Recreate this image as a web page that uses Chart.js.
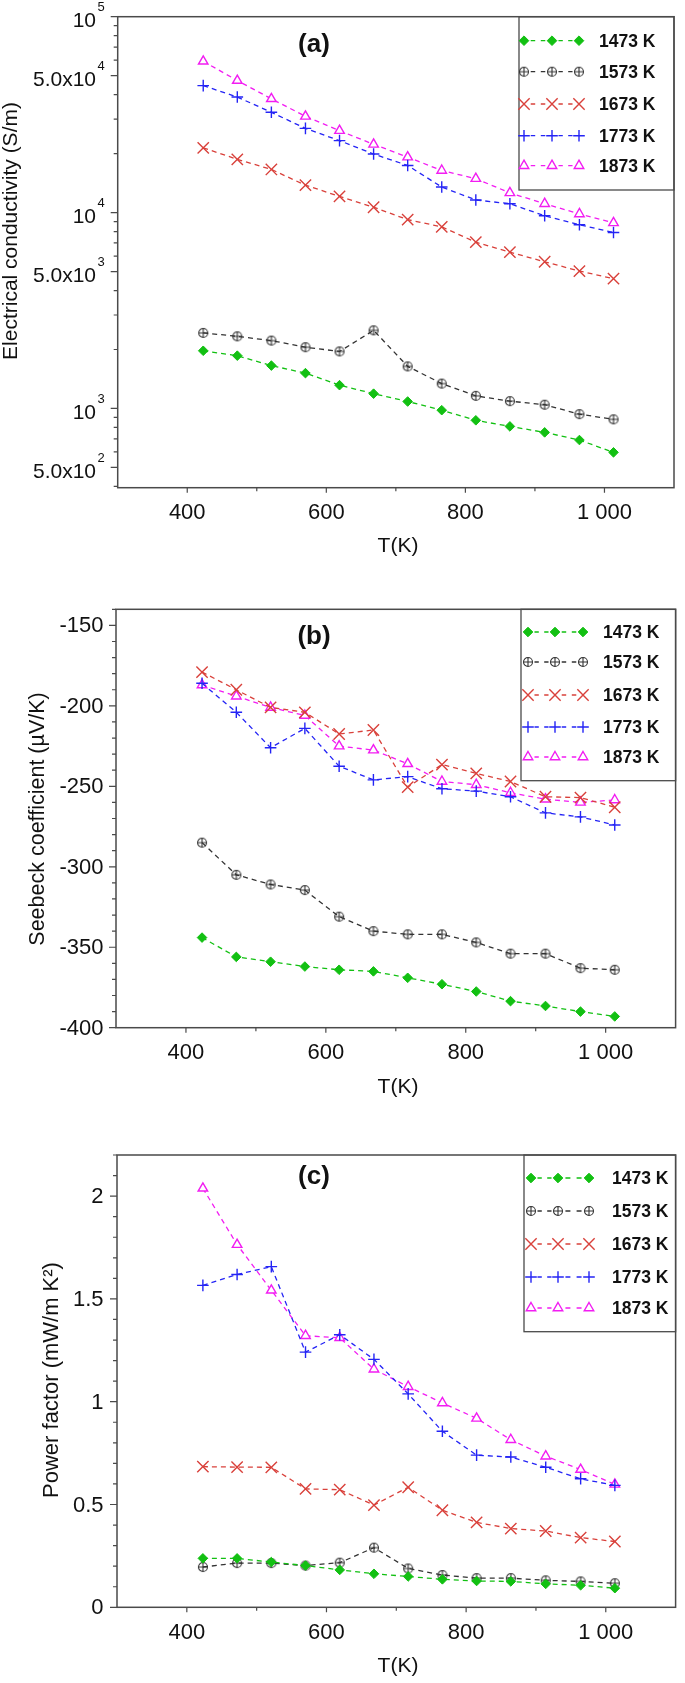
<!DOCTYPE html>
<html>
<head>
<meta charset="utf-8">
<script src="https://cdn.jsdelivr.net/npm/chart.js@4.4.0/dist/chart.umd.min.js"></script>
<style>
  html, body { margin: 0; padding: 0; background: #fff; }
  body { width: 685px; height: 1683px; position: relative; overflow: hidden; }
  .panel { position: absolute; left: 0; width: 685px; }
</style>
</head>
<body>
<div class="panel" style="top:0;height:560px"><canvas id="chartA"></canvas></div>
<div class="panel" style="top:560px;height:560px"><canvas id="chartB"></canvas></div>
<div class="panel" style="top:1120px;height:563px"><canvas id="chartC"></canvas></div>
<script>
// measurement temperatures T(K)
const temps = [423, 472, 521, 570, 619, 668, 717, 766, 815, 864, 914, 964, 1013];
// sintering temperatures (legend)
const seriesNames = ["1473 K", "1573 K", "1673 K", "1773 K", "1873 K"];

// (a) electrical conductivity, S/m
const sigma1473 = [1970, 1860, 1655, 1515, 1315, 1190, 1085, 980, 870, 810, 755, 690, 597];
const sigma1573 = [2430, 2335, 2220, 2055, 1955, 2505, 1640, 1340, 1160, 1090, 1045, 935, 880];
const sigma1673 = [21400, 18700, 16600, 13800, 12100, 10650, 9200, 8460, 7060, 6280, 5610, 5030, 4600];
const sigma1773 = [44500, 38900, 32500, 26900, 23300, 19900, 17400, 13500, 11600, 11100, 9630, 8670, 7910];
const sigma1873 = [59200, 47200, 38100, 31000, 26200, 22300, 19200, 16400, 14900, 12600, 11100, 9840, 8860];

// (b) Seebeck coefficient, µV/K
const seebeck1473 = [-344, -356, -359, -362, -364, -365, -369, -373, -377.5, -383.5, -386.5, -390, -393];
const seebeck1573 = [-285, -305, -311, -314.5, -331, -340, -342, -342, -347, -354, -354, -363, -364];
const seebeck1673 = [-179, -190, -201, -204, -217.5, -215, -250.5, -236.5, -242, -247, -256.5, -257, -263];
const seebeck1773 = [-186, -204, -226, -214, -237.5, -246, -244, -251.5, -253, -256.5, -266.5, -269, -274];
const seebeck1873 = [-187, -194, -201, -206, -225, -227.5, -236, -247, -249, -254, -258, -260, -258.5];

// (c) power factor, mW/m K²
const pf1473 = [0.238, 0.238, 0.220, 0.203, 0.182, 0.163, 0.150, 0.136, 0.128, 0.126, 0.114, 0.107, 0.093];
const pf1573 = [0.196, 0.215, 0.215, 0.203, 0.217, 0.290, 0.189, 0.157, 0.142, 0.142, 0.131, 0.126, 0.117];
const pf1673 = [0.684, 0.682, 0.681, 0.576, 0.572, 0.497, 0.584, 0.472, 0.413, 0.383, 0.371, 0.339, 0.320];
const pf1773 = [1.566, 1.619, 1.657, 1.241, 1.326, 1.206, 1.038, 0.856, 0.740, 0.731, 0.681, 0.625, 0.593];
const pf1873 = [2.038, 1.764, 1.542, 1.321, 1.311, 1.158, 1.073, 0.994, 0.919, 0.815, 0.735, 0.670, 0.598];

// axis ticks
const xMajor = [400, 600, 800, 1000];
const xMajorLabels = ["400", "600", "800", "1 000"];
const xMinor = [500, 700, 900];

const yMajorA = [500, 1000, 5000, 10000, 50000, 100000];
const yMajorLabelsA = [["5.0x10", "2"], ["10", "3"], ["5.0x10", "3"], ["10", "4"], ["5.0x10", "4"], ["10", "5"]];
const yMinorA = [400, 600, 700, 800, 900, 2000, 3000, 4000, 6000, 7000, 8000, 9000,
                 20000, 30000, 40000, 60000, 70000, 80000, 90000];

const yMajorB = [-400, -350, -300, -250, -200, -150];
const yMajorLabelsB = ["-400", "-350", "-300", "-250", "-200", "-150"];
const yMinorB = [];
for (let v = -390; v <= -140; v += 10) if (v % 50 !== 0) yMinorB.push(v);

const yMajorC = [0, 0.5, 1, 1.5, 2];
const yMajorLabelsC = ["0", "0.5", "1", "1.5", "2"];
const yMinorC = [];
for (let i = 1; i <= 22; i++) if (i % 5 !== 0) yMinorC.push(i / 10);

// marker for the 1573 K series: circle with a plus
function circlePlus(color) {
  const c = document.createElement("canvas");
  c.width = 12; c.height = 12;
  const g = c.getContext("2d");
  g.strokeStyle = color;
  g.lineWidth = 1.1;
  g.beginPath();
  g.arc(6, 6, 4.5, 0, Math.PI * 2);
  g.moveTo(1.5, 6); g.lineTo(10.5, 6);
  g.moveTo(6, 1.5); g.lineTo(6, 10.5);
  g.stroke();
  return c;
}

const looks = [
  { color: "#12c012", pointStyle: "rectRot", radius: 4.8, bg: "#12c012", bw: 1 },
  { color: "#333333", pointStyle: circlePlus("#333333"), radius: 5, bg: "#333333", bw: 1 },
  { color: "#d9413b", pointStyle: "crossRot", radius: 8, bg: "#d9413b", bw: 1.4 },
  { color: "#2424f5", pointStyle: "cross", radius: 5.8, bg: "#2424f5", bw: 1.4 },
  { color: "#f21df2", pointStyle: "triangle", radius: 5.5, bg: "#ffffff", bw: 1.4 }
];

const FONT = "'Liberation Sans', Arial, 'DejaVu Sans', sans-serif";

function makeDatasets(seriesList) {
  return seriesList.map((vals, i) => ({
    label: seriesNames[i],
    data: vals.map((v, j) => ({ x: temps[j], y: v })),
    borderColor: looks[i].color,
    backgroundColor: looks[i].bg,
    borderWidth: 1.3,
    borderDash: [5, 4],
    pointStyle: looks[i].pointStyle,
    pointRadius: looks[i].radius,
    pointBorderWidth: looks[i].bw,
    pointBackgroundColor: looks[i].bg,
    pointBorderColor: looks[i].color,
    tension: 0,
    fill: false
  }));
}

const decoPlugin = {
  id: "deco",
  afterDatasetsDraw(chart, args, o) {
    const { ctx, chartArea: ca } = chart;
    const x = chart.scales.x, y = chart.scales.y;
    const off = o.offset;
    ctx.save();

    // legend box
    const L = o.legend;
    ctx.fillStyle = "#fff";
    ctx.fillRect(L.left, ca.top, ca.right - L.left, L.bottom - off - ca.top);
    ctx.strokeStyle = "#4a4a4a";
    ctx.lineWidth = 1.3;
    ctx.strokeRect(L.left, ca.top, ca.right - L.left, L.bottom - off - ca.top);
    chart.data.datasets.forEach((ds, i) => {
      const ry = L.rows[i] - off;
      ctx.strokeStyle = ds.borderColor;
      ctx.lineWidth = 1.3;
      ctx.setLineDash([]);
      ctx.beginPath();
      for (let k = 0; k < L.mx.length - 1; k++) {
        const a = L.mx[k], b = L.mx[k + 1], w = b - a;
        ctx.moveTo(a + w * 0.24, ry); ctx.lineTo(a + w * 0.40, ry);
        ctx.moveTo(a + w * 0.60, ry); ctx.lineTo(a + w * 0.76, ry);
      }
      ctx.stroke();
      L.mx.forEach(mx => {
        ctx.fillStyle = ds.pointBackgroundColor;
        ctx.strokeStyle = ds.pointBorderColor;
        ctx.lineWidth = ds.pointBorderWidth;
        Chart.helpers.drawPoint(ctx, {
          pointStyle: ds.pointStyle, radius: ds.pointRadius,
          rotation: 0, borderWidth: ds.pointBorderWidth
        }, mx, ry);
      });
      ctx.fillStyle = "#111";
      ctx.font = "bold 17.5px " + FONT;
      ctx.textAlign = "left";
      ctx.textBaseline = "middle";
      ctx.fillText(ds.label, L.tx, ry + 1);
    });

    // frame
    ctx.strokeStyle = "#4a4a4a";
    ctx.lineWidth = 1.5;
    ctx.strokeRect(ca.left, ca.top, ca.right - ca.left, ca.bottom - ca.top);

    // tick marks
    ctx.lineWidth = 1.2;
    ctx.beginPath();
    xMajor.forEach(v => { const p = x.getPixelForValue(v); ctx.moveTo(p, ca.bottom); ctx.lineTo(p, ca.bottom + 5); });
    xMinor.forEach(v => { const p = x.getPixelForValue(v); ctx.moveTo(p, ca.bottom); ctx.lineTo(p, ca.bottom + 3.5); });
    o.yMajor.forEach(v => { const p = y.getPixelForValue(v); ctx.moveTo(ca.left, p); ctx.lineTo(ca.left - 7, p); });
    o.yMinor.forEach(v => { const p = y.getPixelForValue(v); ctx.moveTo(ca.left, p); ctx.lineTo(ca.left - 4, p); });
    ctx.stroke();

    // tick labels
    ctx.fillStyle = "#111";
    ctx.font = "22px " + FONT;
    ctx.textAlign = "center";
    ctx.textBaseline = "middle";
    xMajor.forEach((v, i) => ctx.fillText(xMajorLabels[i], x.getPixelForValue(v), o.xLabelY - off));
    o.yMajor.forEach((v, i) => {
      const p = y.getPixelForValue(v);
      const lab = o.yLabels[i];
      if (Array.isArray(lab)) {
        ctx.font = "21px " + FONT;
        ctx.textAlign = "right";
        ctx.fillText(lab[0], 96, p + 5);
        ctx.font = "13px " + FONT;
        ctx.textAlign = "left";
        ctx.fillText(lab[1], 97.5, p - 9);
      } else {
        ctx.font = "22px " + FONT;
        ctx.textAlign = "right";
        ctx.fillText(lab, 103.5, p + 1);
      }
    });

    // axis titles
    ctx.font = "21px " + FONT;
    ctx.textAlign = "center";
    ctx.fillText("T(K)", 398, o.xTitleY - off);
    ctx.save();
    ctx.translate(o.yTitle.x, o.yTitle.y - off);
    ctx.rotate(-Math.PI / 2);
    ctx.font = o.yTitle.size + "px " + FONT;
    ctx.fillText(o.yTitle.text, 0, 0);
    ctx.restore();

    // panel label
    ctx.font = "bold 26px " + FONT;
    ctx.fillText(o.panel.text, o.panel.x, o.panel.y - off);
    ctx.restore();
  }
};

function makeChart(id, seriesList, yScale, pad, deco) {
  return new Chart(document.getElementById(id), {
    type: "line",
    data: { datasets: makeDatasets(seriesList) },
    plugins: [decoPlugin],
    options: {
      responsive: true,
      maintainAspectRatio: false,
      animation: false,
      layout: { padding: pad },
      scales: {
        x: { type: "linear", min: 300, max: 1100, display: false },
        y: Object.assign({ display: false }, yScale)
      },
      plugins: {
        legend: { display: false },
        tooltip: { enabled: false },
        deco: deco
      }
    }
  });
}

makeChart("chartA", [sigma1473, sigma1573, sigma1673, sigma1773, sigma1873],
  { type: "logarithmic", min: 394, max: 100000 },
  { left: 117.7, right: 11, top: 16.7, bottom: 72.3 },
  {
    offset: 0,
    yMajor: yMajorA, yMinor: yMinorA, yLabels: yMajorLabelsA,
    xLabelY: 513, xTitleY: 546,
    yTitle: { text: "Electrical conductivity (S/m)", x: 11, y: 231, size: 21 },
    panel: { text: "(a)", x: 314, y: 44.6 },
    legend: { left: 519, bottom: 190, rows: [40.7, 71.7, 104, 135.7, 165.7], mx: [524, 552, 579], tx: 599 }
  });

makeChart("chartB", [seebeck1473, seebeck1573, seebeck1673, seebeck1773, seebeck1873],
  { type: "linear", min: -400, max: -140 },
  { left: 116, right: 5, top: 49.3, bottom: 92.3 },
  {
    offset: 560,
    yMajor: yMajorB, yMinor: yMinorB, yLabels: yMajorLabelsB,
    xLabelY: 1052.7, xTitleY: 1087,
    yTitle: { text: "Seebeck coefficient (µV/K)", x: 38.5, y: 819, size: 21.5 },
    panel: { text: "(b)", x: 314, y: 637 },
    legend: { left: 521, bottom: 780.7, rows: [632, 662, 695, 727, 757], mx: [528, 555, 583], tx: 603 }
  });

makeChart("chartC", [pf1473, pf1573, pf1673, pf1773, pf1873],
  { type: "linear", min: 0, max: 2.2 },
  { left: 117, right: 3, top: 35, bottom: 75.7 },
  {
    offset: 1120,
    yMajor: yMajorC, yMinor: yMinorC, yLabels: yMajorLabelsC,
    xLabelY: 1633.3, xTitleY: 1666.6,
    yTitle: { text: "Power factor (mW/m K²)", x: 51.5, y: 1380, size: 22 },
    panel: { text: "(c)", x: 314, y: 1177 },
    legend: { left: 524, bottom: 1331.7, rows: [1178, 1211, 1244, 1277, 1308], mx: [531, 558, 589], tx: 612 }
  });
</script>
</body>
</html>
